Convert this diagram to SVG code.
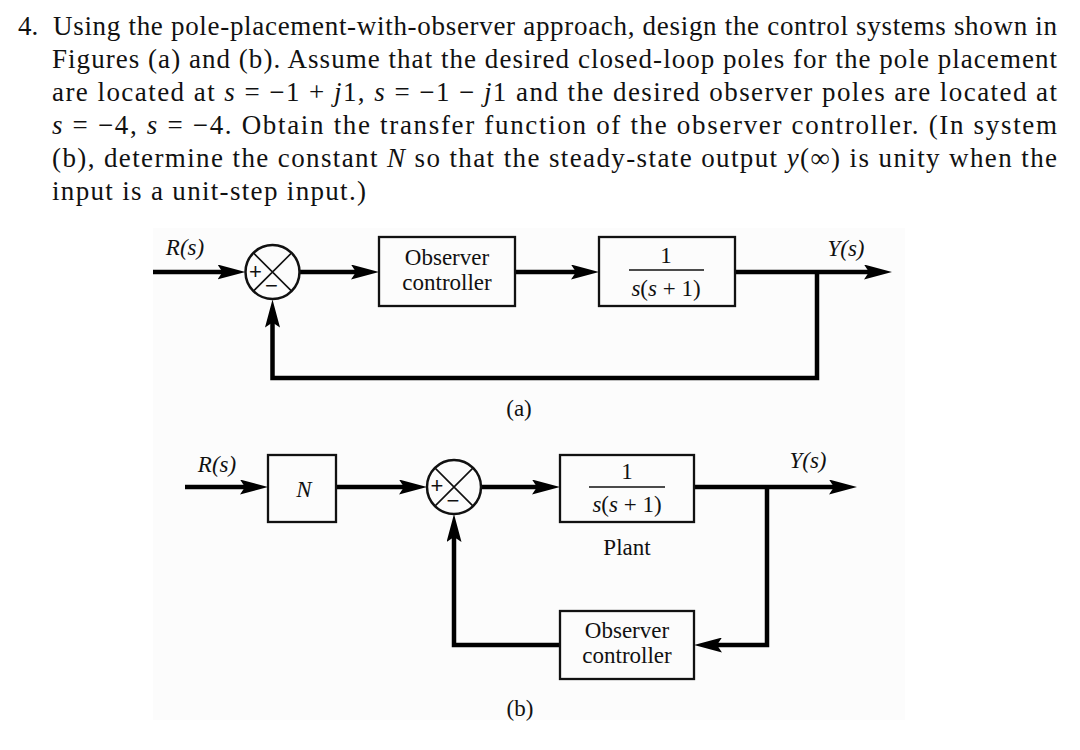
<svg xmlns="http://www.w3.org/2000/svg" width="1080" height="750" viewBox="0 0 1080 750">
<style>
.para{font-family:"Liberation Serif","Times New Roman",serif;font-size:27px;fill:#111;}
.lbl{font-family:"Liberation Serif","Times New Roman",serif;font-size:23px;fill:#111;text-anchor:middle;}
.it{font-style:italic;}
.sign{font-family:"Liberation Sans",Arial,sans-serif;font-size:22px;fill:#111;text-anchor:middle;}
.box{fill:none;stroke:#111;stroke-width:2.3;}
.sum{fill:none;stroke:#111;stroke-width:2.5;}
.thin{stroke:#111;stroke-width:1.6;fill:none;}
.conn{fill:none;stroke:#000;stroke-width:4.5;marker-end:url(#arr);}
</style>
<defs>
<marker id="arr" markerUnits="userSpaceOnUse" viewBox="0 0 28 15" markerWidth="28" markerHeight="15" refX="9" refY="7.5" orient="auto">
<path d="M0,0 L28,7.5 L0,15 L5,7.5 Z" fill="#000"/>
</marker>
</defs>
<rect width="1080" height="750" fill="#ffffff"/>
<rect x="153" y="228" width="752" height="492" fill="#fcfcfc"/>

<g id="problem-text">
<text class="para" x="18" y="35">4.</text>
<text class="para" x="53" y="35" textLength="1004">Using the pole-placement-with-observer approach, design the control systems shown in</text>
<text class="para" x="52" y="68" textLength="1005">Figures (a) and (b). Assume that the desired closed-loop poles for the pole placement</text>
<text class="para" x="52" y="101" textLength="1005">are located at <tspan class="it">s</tspan> = −1 + <tspan class="it">j</tspan>1, <tspan class="it">s</tspan> = −1 − <tspan class="it">j</tspan>1 and the desired observer poles are located at</text>
<text class="para" x="52" y="134" textLength="1005"><tspan class="it">s</tspan> = −4, <tspan class="it">s</tspan> = −4. Obtain the transfer function of the observer controller. (In system</text>
<text class="para" x="52" y="167" textLength="1005">(b), determine the constant <tspan class="it">N</tspan> so that the steady-state output <tspan class="it">y</tspan>(∞) is unity when the</text>
<text class="para" x="52" y="200" textLength="314">input is a unit-step input.)</text>
</g>

<g id="connectors">
<path class="conn" d="M153,272 H226.5"/>
<path class="conn" d="M299.5,272 H360"/>
<path class="conn" d="M515,272 H580"/>
<path class="conn" d="M735,272 H873"/>
<path class="conn" d="M817,272 V378 H272.5 V318.5"/>
<path class="conn" d="M185,487 H249"/>
<path class="conn" d="M336,487 H408"/>
<path class="conn" d="M481,487 H541"/>
<path class="conn" d="M694,487 H838"/>
<path class="conn" d="M767,487 V645 H713"/>
<path class="conn" d="M560,645 H454 V533"/>
</g>

<g id="label-R-a"><text class="lbl it" x="185" y="255">R(s)</text></g>
<g id="sum-a">
<circle class="sum" cx="272.5" cy="272" r="27"/>
<path class="thin" d="M253.4,252.9 L291.6,291.1 M291.6,252.9 L253.4,291.1" stroke-width="1.8"/>
<text class="sign" x="255.5" y="279">+</text>
<text class="sign" x="271.5" y="293">−</text>
</g>
<g id="observer-a">
<rect class="box" x="379" y="237" width="136" height="69"/>
<text class="lbl" x="447" y="265">Observer</text>
<text class="lbl" x="447" y="290">controller</text>
</g>
<g id="plant-a">
<rect class="box" x="599" y="237" width="136" height="69"/>
<text class="lbl" x="666" y="263">1</text>
<line class="thin" x1="629" y1="270" x2="704" y2="270"/>
<text class="lbl" x="666" y="296"><tspan class="it">s</tspan>(<tspan class="it">s</tspan> + 1)</text>
</g>
<g id="label-Y-a"><text class="lbl it" x="846" y="256">Y(s)</text></g>
<g id="caption-a"><text class="lbl" x="519" y="416">(a)</text></g>

<g id="label-R-b"><text class="lbl it" x="217" y="472">R(s)</text></g>
<g id="gain-N">
<rect class="box" x="268" y="455" width="68" height="67"/>
<text class="lbl it" x="304" y="497">N</text>
</g>
<g id="sum-b">
<circle class="sum" cx="454" cy="487" r="27"/>
<path class="thin" d="M434.9,467.9 L473.1,506.1 M473.1,467.9 L434.9,506.1" stroke-width="1.8"/>
<text class="sign" x="437" y="493">+</text>
<text class="sign" x="453" y="508">−</text>
</g>
<g id="plant-b">
<rect class="box" x="560" y="455" width="134" height="67"/>
<text class="lbl" x="627" y="479">1</text>
<line class="thin" x1="589" y1="487" x2="665" y2="487"/>
<text class="lbl" x="627" y="512"><tspan class="it">s</tspan>(<tspan class="it">s</tspan> + 1)</text>
<text class="lbl" x="627" y="555">Plant</text>
</g>
<g id="label-Y-b"><text class="lbl it" x="808" y="468">Y(s)</text></g>
<g id="observer-b">
<rect class="box" x="560" y="611" width="134" height="68"/>
<text class="lbl" x="627" y="638">Observer</text>
<text class="lbl" x="627" y="663">controller</text>
</g>
<g id="caption-b"><text class="lbl" x="520" y="716">(b)</text></g>
</svg>
